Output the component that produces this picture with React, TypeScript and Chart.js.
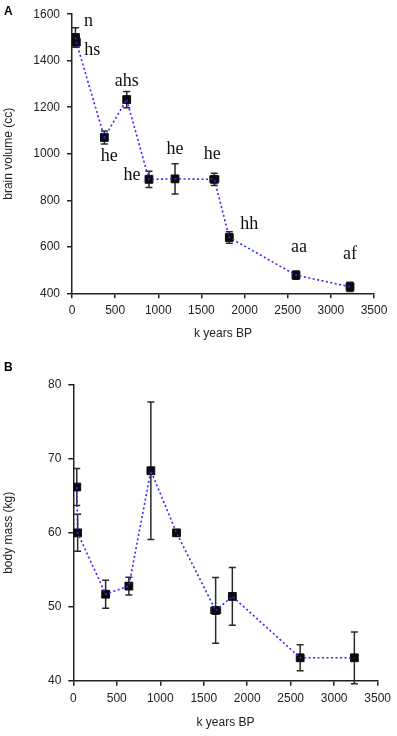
import React, { useEffect, useRef } from "react";
import Chart from "chart.js/auto";

// ---- Data ----
const SPECIES = ["n", "hs", "he", "ahs", "he", "he", "he", "hh", "aa", "af"];
const KYEARS_A = [40, 50, 375, 634, 892, 1194, 1649, 1823, 2596, 3222];
const BRAIN_VOLUME = [1500, 1480, 1070, 1233, 890, 892, 890, 640, 478, 428];
const BRAIN_ERR = [42, 22, 28, 35, 35, 65, 26, 25, 18, 20];
const BRAIN_XERR = [0, 0, 0, 0, 0, 0, 50, 0, 0, 0];

const KYEARS_B = [40, 50, 372, 639, 892, 1187, 1637, 1829, 2609, 3232];
const BODY_MASS = [66.2, 60.0, 51.7, 52.8, 68.4, 60.0, 49.5, 51.4, 43.1, 43.1];
const BODY_ERR = [2.5, 2.5, 1.9, 1.2, 9.3, 0.2, 4.45, 3.9, 1.75, 3.5];
const BODY_XERR = [0, 0, 0, 0, 0, 0, 55, 0, 0, 0];

const X_TICKS = [0, 500, 1000, 1500, 2000, 2500, 3000, 3500];
const BRAIN_TICKS = [400, 600, 800, 1000, 1200, 1400, 1600];
const MASS_TICKS = [40, 50, 60, 70, 80];

// label offsets (style, pixels relative to the point)
const LABEL_OFFSETS: [number, number][] = [
  [13, -16], [16, 8], [5, 19], [0, -18], [-17, -4], [0, -30], [-2, -25], [20, -13], [3, -28], [0, -33],
];

const AXIS = "#222";
const LINE_BLUE = "#2b2bff";
const SANS = "'Liberation Sans', Arial, Helvetica, sans-serif";

type PanelCfg = {
  letter: string;
  letterY: number;
  xs: number[];
  ys: number[];
  err: number[];
  xerr: number[];
  yTicks: number[];
  yTitle: string;
  labels: string[] | null;
  height: number;
  padTop: number;
  padRight: number;
  yWidth: number;
  xHeight: number;
  xTickPad: number;
  xTitlePad: number;
};

function makePlugin(cfg: PanelCfg) {
  return {
    id: "panelExtras" + cfg.letter,
    beforeDatasetsDraw(chart: any) {
      const ctx = chart.ctx;
      const xs = chart.scales.x;
      const ys = chart.scales.y;
      ctx.save();
      ctx.strokeStyle = "#2a2a2a";
      ctx.lineWidth = 1.5;
      const cap = 3.5;
      cfg.xs.forEach((xv, i) => {
        const px = xs.getPixelForValue(xv);
        const py = ys.getPixelForValue(cfg.ys[i]);
        const e = cfg.err[i];
        if (e > 0) {
          const t = ys.getPixelForValue(cfg.ys[i] + e);
          const b = ys.getPixelForValue(cfg.ys[i] - e);
          ctx.beginPath();
          ctx.moveTo(px, t);
          ctx.lineTo(px, b);
          ctx.moveTo(px - cap, t);
          ctx.lineTo(px + cap, t);
          ctx.moveTo(px - cap, b);
          ctx.lineTo(px + cap, b);
          ctx.stroke();
        }
        const xe = cfg.xerr[i];
        if (xe > 0) {
          const l = xs.getPixelForValue(xv - xe);
          const r = xs.getPixelForValue(xv + xe);
          ctx.beginPath();
          ctx.moveTo(l, py);
          ctx.lineTo(r, py);
          ctx.moveTo(l, py - cap);
          ctx.lineTo(l, py + cap);
          ctx.moveTo(r, py - cap);
          ctx.lineTo(r, py + cap);
          ctx.stroke();
        }
      });
      ctx.restore();
    },
    afterDatasetsDraw(chart: any) {
      const ctx = chart.ctx;
      const xs = chart.scales.x;
      const ys = chart.scales.y;
      ctx.save();
      if (cfg.labels) {
        ctx.fillStyle = "#111";
        ctx.font = "18px 'Liberation Serif', 'Times New Roman', serif";
        ctx.textAlign = "center";
        ctx.textBaseline = "middle";
        cfg.labels.forEach((lab, i) => {
          const px = xs.getPixelForValue(cfg.xs[i]);
          const py = ys.getPixelForValue(cfg.ys[i]);
          const [dx, dy] = LABEL_OFFSETS[i];
          ctx.fillText(lab, px + dx, py + dy);
        });
      }
      ctx.fillStyle = "#000";
      ctx.font = "bold 12px " + SANS;
      ctx.textAlign = "left";
      ctx.textBaseline = "middle";
      ctx.fillText(cfg.letter, 4, cfg.letterY);
      ctx.restore();
    },
  };
}

const plainTick = (v: any) => String(v);

function Panel({ cfg }: { cfg: PanelCfg }) {
  const ref = useRef<HTMLCanvasElement | null>(null);
  useEffect(() => {
    if (!ref.current) return;
    const pts = cfg.xs.map((x, i) => ({ x, y: cfg.ys[i] }));
    const chart = new Chart(ref.current, {
      type: "scatter",
      data: {
        datasets: [
          {
            type: "line",
            data: pts,
            borderColor: LINE_BLUE,
            borderWidth: 1.6,
            borderDash: [2, 2.5],
            pointRadius: 0,
            fill: false,
            tension: 0,
            order: 1,
          } as any,
          {
            type: "scatter",
            data: pts,
            pointStyle: "rect",
            pointRadius: 5.5,
            pointBackgroundColor: "#0a0a0a",
            pointBorderColor: "#0a0a0a",
            pointBorderWidth: 1,
            order: 2,
          } as any,
        ],
      },
      options: {
        responsive: false,
        animation: false,
        events: [],
        layout: { padding: { top: cfg.padTop, right: cfg.padRight, left: 0, bottom: 0 } },
        plugins: { legend: { display: false }, tooltip: { enabled: false } },
        scales: {
          x: {
            type: "linear",
            min: 0,
            max: 3500,
            afterBuildTicks: (s: any) => {
              s.ticks = X_TICKS.map((v) => ({ value: v }));
            },
            afterFit: (s: any) => {
              s.height = cfg.xHeight;
            },
            ticks: { color: AXIS, font: { family: SANS, size: 12 }, padding: cfg.xTickPad, maxRotation: 0, callback: plainTick },
            grid: { display: true, drawOnChartArea: false, drawTicks: true, tickLength: 5, color: AXIS, lineWidth: 1.5 },
            border: { display: true, color: AXIS, width: 1.5 },
            title: {
              display: true,
              text: "k years BP",
              color: AXIS,
              font: { family: SANS, size: 12 },
              padding: { top: 0, bottom: cfg.xTitlePad },
            },
          },
          y: {
            type: "linear",
            min: cfg.yTicks[0],
            max: cfg.yTicks[cfg.yTicks.length - 1],
            afterBuildTicks: (s: any) => {
              s.ticks = cfg.yTicks.map((v) => ({ value: v }));
            },
            afterFit: (s: any) => {
              s.width = cfg.yWidth;
            },
            ticks: { color: AXIS, font: { family: SANS, size: 12 }, padding: 7, callback: plainTick },
            grid: { display: true, drawOnChartArea: false, drawTicks: true, tickLength: 5, color: AXIS, lineWidth: 1.5 },
            border: { display: true, color: AXIS, width: 1.5 },
            title: {
              display: true,
              text: cfg.yTitle,
              color: AXIS,
              font: { family: SANS, size: 12 },
              padding: { top: 1, bottom: 0 },
            },
          },
        },
      },
      plugins: [makePlugin(cfg)],
    } as any);
    return () => chart.destroy();
  }, []);
  return <canvas ref={ref} width={397} height={cfg.height} style={{ display: "block" }} />;
}

const PANEL_A: PanelCfg = {
  letter: "A",
  letterY: 12,
  xs: KYEARS_A,
  ys: BRAIN_VOLUME,
  err: BRAIN_ERR,
  xerr: BRAIN_XERR,
  yTicks: BRAIN_TICKS,
  yTitle: "brain volume (cc)",
  labels: SPECIES,
  height: 345,
  padTop: 10,
  padRight: 23,
  yWidth: 72,
  xHeight: 51.7,
  xTickPad: 5,
  xTitlePad: 4,
};

const PANEL_B: PanelCfg = {
  letter: "B",
  letterY: 22.5,
  xs: KYEARS_B,
  ys: BODY_MASS,
  err: BODY_ERR,
  xerr: BODY_XERR,
  yTicks: MASS_TICKS,
  yTitle: "body mass (kg)",
  labels: null,
  height: 391,
  padTop: 40,
  padRight: 18.7,
  yWidth: 73.3,
  xHeight: 55.3,
  xTickPad: 6,
  xTitlePad: 5.8,
};

export default function App() {
  return (
    <div style={{ position: "absolute", left: 0, top: 0, width: 397, height: 736, background: "#fff" }}>
      <Panel cfg={PANEL_A} />
      <Panel cfg={PANEL_B} />
    </div>
  );
}
